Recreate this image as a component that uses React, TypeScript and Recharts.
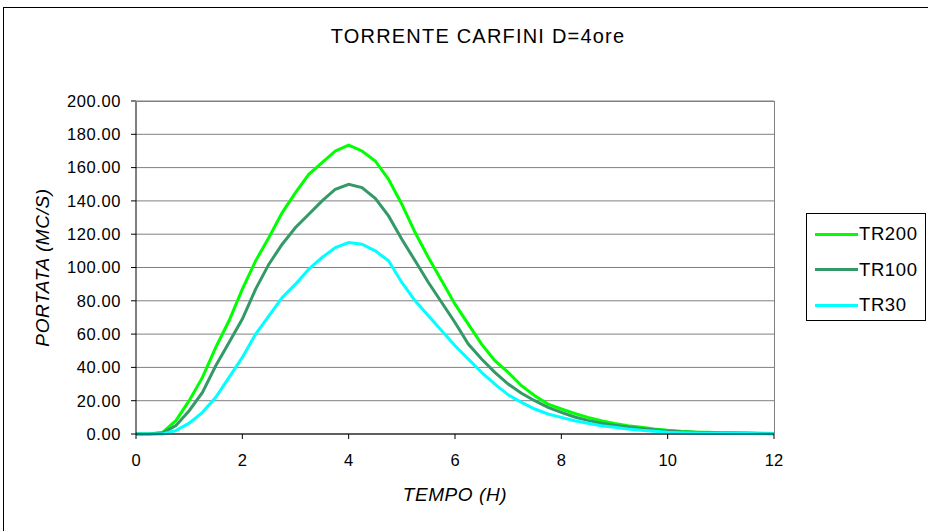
import * as React from "react";
import { CartesianGrid, Line, LineChart, XAxis, YAxis } from "recharts";

// hours, 0.25 h step
const tempo = [
  0, 0.25, 0.5, 0.75, 1, 1.25, 1.5, 1.75, 2, 2.25, 2.5, 2.75, 3, 3.25, 3.5, 3.75, 4,
  4.25, 4.5, 4.75, 5, 5.25, 5.5, 5.75, 6, 6.25, 6.5, 6.75, 7, 7.25, 7.5, 7.75, 8,
  8.25, 8.5, 8.75, 9, 9.25, 9.5, 9.75, 10, 10.25, 10.5, 10.75, 11, 11.25, 11.5, 11.75, 12,
];

const tr200 = [
  0, 0, 1, 8, 20, 34, 52, 68, 87, 104, 118, 133, 145, 156, 163, 170, 173.5,
  170, 164, 153, 138, 121, 106, 92, 78, 66, 54, 44, 37, 29, 23, 18, 15,
  12.3, 10, 8, 6.3, 5, 4, 3, 2.2, 1.6, 1.2, 1, 0.8, 0.7, 0.6, 0.5, 0.3,
];

const tr100 = [
  0, 0, 0.5, 5, 14, 25, 41, 55, 69, 87, 102, 114, 124, 132, 140, 147, 150,
  148, 141.5, 131, 117, 104, 91, 79, 67, 54, 45, 37, 30, 24.5, 20, 16, 13,
  10.2, 8.2, 6.5, 5.2, 4.2, 3.3, 2.5, 1.8, 1.3, 1, 0.8, 0.6, 0.5, 0.4, 0.3, 0.2,
];

const tr30 = [
  0, 0, 0, 2, 6.5, 13, 22, 34, 46, 60, 71, 82, 90, 99, 106, 112, 115,
  114, 110, 104, 91, 80, 71, 62, 53, 45, 37, 30, 23.5, 19, 15, 12, 10,
  8, 6.5, 5, 4, 3, 2.2, 1.6, 1.1, 0.8, 0.6, 0.5, 0.4, 0.3, 0.3, 0.2, 0.1,
];

const xTicks = [0, 2, 4, 6, 8, 10, 12];
const yTicks = [0, 20, 40, 60, 80, 100, 120, 140, 160, 180, 200];

const series = [
  { key: "TR200", color: "#00ff00" },
  { key: "TR100", color: "#339966" },
  { key: "TR30", color: "#00ffff" },
];

const data = tempo.map((t, i) => ({ t, TR200: tr200[i], TR100: tr100[i], TR30: tr30[i] }));

const FONT = "Arial, 'Liberation Sans', sans-serif";

function LegendBox() {
  return (
    <div
      style={{
        position: "absolute",
        left: 806,
        top: 213,
        width: 118,
        height: 106,
        border: "1px solid #000",
        background: "#fff",
        fontFamily: FONT,
        fontSize: 18.5,
        letterSpacing: 0.6,
      }}
    >
      {series.map((s, i) => (
        <div
          key={s.key}
          style={{ position: "absolute", left: 8, top: 9 + i * 35.5, display: "flex", alignItems: "center" }}
        >
          <span style={{ display: "inline-block", width: 43, height: 3, background: s.color }} />
          <span style={{ marginLeft: 1, lineHeight: "22px" }}>{s.key}</span>
        </div>
      ))}
    </div>
  );
}

export default function App() {
  return (
    <div
      style={{
        position: "fixed",
        left: 0,
        top: 0,
        width: 928,
        height: 531,
        overflow: "hidden",
        background: "#fff",
        fontFamily: FONT,
      }}
    >
      <div
        style={{
          position: "absolute",
          left: 3,
          top: 7,
          width: 960,
          height: 560,
          border: "1px solid #000",
        }}
      />
      <div
        style={{
          position: "absolute",
          left: 0,
          top: 25,
          width: 956,
          textAlign: "center",
          fontSize: 20,
          letterSpacing: 1.2,
          color: "#000",
        }}
      >
        TORRENTE CARFINI D=4ore
      </div>
      <div style={{ position: "absolute", left: 0, top: 0 }}>
        <LineChart
          width={928}
          height={531}
          data={data}
          margin={{ top: 101, right: 154, bottom: 67, left: 76 }}
        >
          <CartesianGrid
            horizontal
            vertical={false}
            stroke="#808080"
            strokeWidth={1}
            strokeDasharray=""
          />
          <XAxis
            dataKey="t"
            type="number"
            domain={[0, 12]}
            ticks={xTicks}
            height={30}
            axisLine={{ stroke: "#000", strokeWidth: 1 }}
            tickLine={{ stroke: "#000" }}
            tickSize={5}
            tick={{ fill: "#000", fontSize: 16.5, fontFamily: FONT, dy: 13 }}
            label={{
              value: "TEMPO (H)",
              position: "bottom",
              offset: 24,
              style: { fill: "#000", fontSize: 19, letterSpacing: 0.6, fontStyle: "italic", fontFamily: FONT },
            }}
          />
          <YAxis
            type="number"
            domain={[0, 200]}
            ticks={yTicks}
            width={60}
            interval={0}
            axisLine={{ stroke: "#000", strokeWidth: 1 }}
            tickLine={{ stroke: "#000" }}
            tickSize={5}
            tickFormatter={(v: number) => v.toFixed(2)}
            tick={{ fill: "#000", fontSize: 16.5, letterSpacing: 0.6, fontFamily: FONT, dx: -8 }}
            label={{
              value: "PORTATA (MC/S)",
              angle: -90,
              position: "insideLeft",
              dx: -39,
              style: { textAnchor: "middle", fill: "#000", fontSize: 19, letterSpacing: 0.6, fontStyle: "italic", fontFamily: FONT },
            }}
          />
          {series.map((s) => (
            <Line
              key={s.key}
              type="linear"
              dataKey={s.key}
              stroke={s.color}
              strokeWidth={3}
              dot={false}
              activeDot={false}
              isAnimationActive={false}
            />
          ))}
        </LineChart>
      </div>
      {/* plot area frame: top and right edges in gray */}
      <div
        style={{
          position: "absolute",
          left: 135,
          top: 101,
          width: 639,
          height: 333,
          borderTop: "1px solid #808080",
          borderRight: "1px solid #808080",
          pointerEvents: "none",
        }}
      />
      <LegendBox />
    </div>
  );
}
